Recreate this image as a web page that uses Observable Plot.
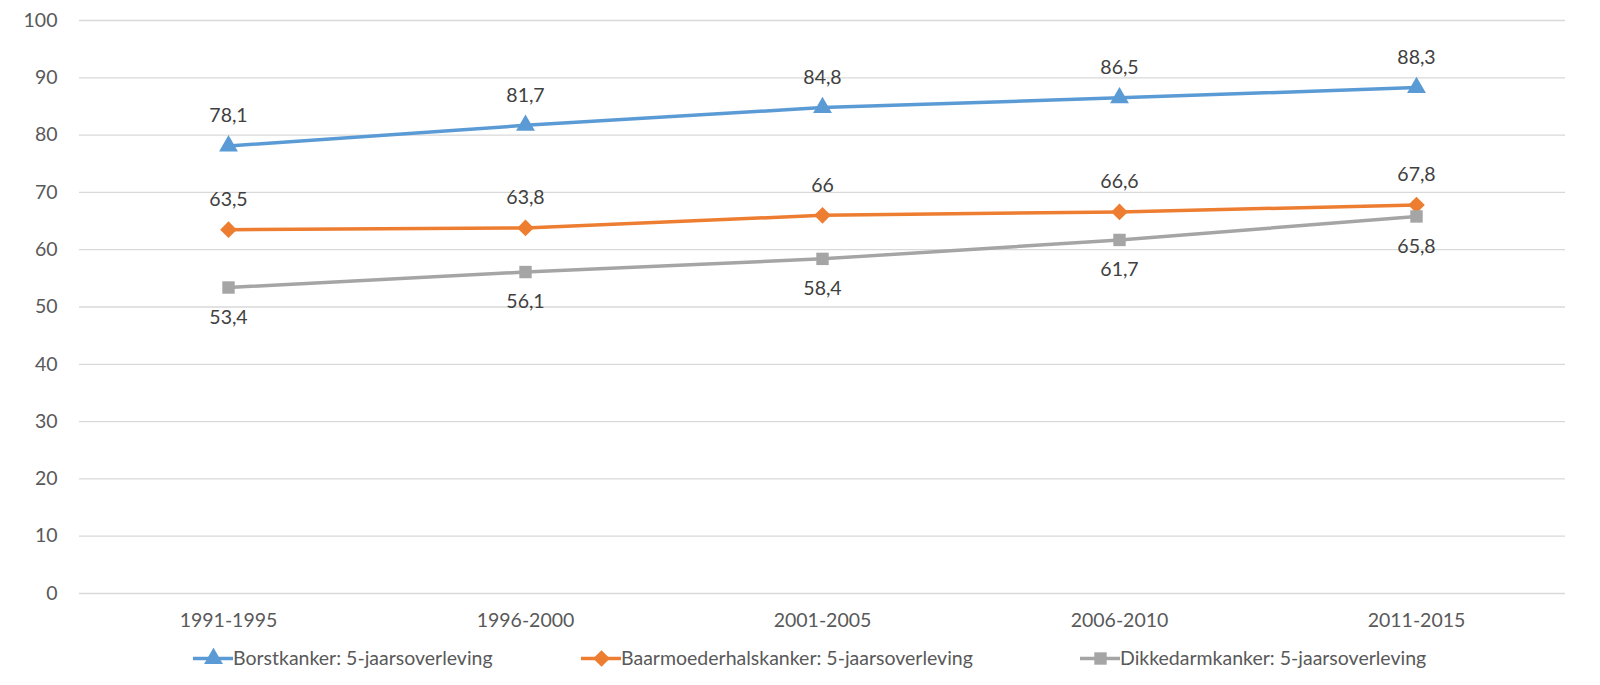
<!DOCTYPE html>
<html><head><meta charset="utf-8">
<script src="https://cdn.jsdelivr.net/npm/d3@7"></script>
<script src="https://cdn.jsdelivr.net/npm/@observablehq/plot@0.6"></script>
<style>
html,body{margin:0;padding:0;background:#fff;font-family:Lato,"Open Sans",sans-serif;overflow:hidden;width:1600px;height:685px;}
#wrap{position:relative;width:1600px;height:685px;overflow:hidden}
#chart{position:absolute;left:0;top:0}
#chart svg{display:block}
#legend{position:absolute;left:0;top:635px;width:1600px;height:50px;font-size:19.5px;color:#595959}
.item{position:absolute;display:flex;align-items:center;top:11px;white-space:nowrap}
.item svg{display:block}
</style></head><body>
<div id="wrap"><div id="chart"></div><div id="legend"></div></div>
<script>
const periods = ["1991-1995","1996-2000","2001-2005","2006-2010","2011-2015"];
const seriesNames = ["Borstkanker: 5-jaarsoverleving","Baarmoederhalskanker: 5-jaarsoverleving","Dikkedarmkanker: 5-jaarsoverleving"];
const borst = [78.1,81.7,84.8,86.5,88.3];
const baarmoeder = [63.5,63.8,66,66.6,67.8];
const dikkedarm = [53.4,56.1,58.4,61.7,65.8];
const yTicks = [0,10,20,30,40,50,60,70,80,90,100];
const colors = ["#5B9BD5","#ED7D31","#A5A5A5"];
const symbols = ["triangle","diamond2","square"];
const labelPos = [-1,-1,1];
const legendX = [193,581,1080];

const all = [borst,baarmoeder,dikkedarm];
const data = [];
all.forEach((vals,si)=>vals.forEach((v,i)=>data.push({period:periods[i],value:v,series:seriesNames[si],si})));
const fmt = v => String(v).replace(".",",");

const marks = [
  Plot.gridY(yTicks,{stroke:"#D9D9D9",strokeOpacity:1,strokeWidth:1.3}),
  Plot.axisY(yTicks,{tickSize:0,tickPadding:22,fontSize:19.5,fill:"#595959",label:null}),
  Plot.axisX(periods,{tickSize:0,tickPadding:20,fontSize:19.5,fill:"#595959",label:null}),
];
seriesNames.forEach((s,si)=>{
  const d = data.filter(e=>e.si===si);
  marks.push(Plot.line(d,{x:"period",y:"value",stroke:colors[si],strokeWidth:3.5}));
  marks.push(Plot.dot(d,{x:"period",y:"value",fill:colors[si],stroke:null,symbol:()=>symbols[si],r:si===1?7.5:7}));
  marks.push(Plot.text(d,{x:"period",y:"value",text:e=>fmt(e.value),dy:labelPos[si]*30,fontSize:19.5,fill:"#404040"}));
});

const chart = Plot.plot({
  width:1600,height:635,
  marginLeft:79,marginRight:35,marginTop:20,marginBottom:42,
  style:{fontFamily:"Lato, 'Open Sans', sans-serif",background:"#fff"},
  x:{type:"point",domain:periods,padding:0.5},
  y:{domain:[0,100]},
  marks
});
document.getElementById("chart").append(chart);

const leg = document.getElementById("legend");
seriesNames.forEach((s,si)=>{
  const it = document.createElement("div");
  it.className="item";
  it.style.left = legendX[si]+"px";
  const sym = Plot.plot({width:40,height:20,margin:0,axis:null,x:{domain:[0,1]},y:{domain:[0,1]},
    marks:[Plot.ruleY([0.5],{stroke:colors[si],strokeWidth:3.5}),
           Plot.dot([[0.5,0.5]],{fill:colors[si],symbol:symbols[si],r:si===1?7.5:7})]});
  it.append(sym);
  const t=document.createElement("span");t.textContent=s;it.append(t);
  leg.append(it);
});
</script></body></html>
